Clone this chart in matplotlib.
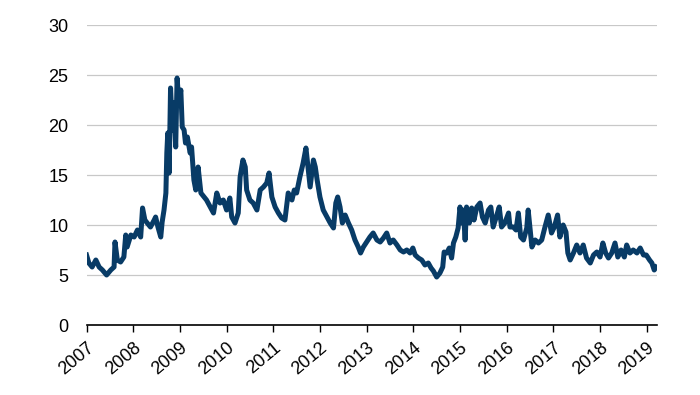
import matplotlib
matplotlib.use("Agg")
import matplotlib.pyplot as plt

# decimal years and values
years = [
    2007.00, 2007.05, 2007.12, 2007.20, 2007.27, 2007.34, 2007.43, 2007.52, 2007.59, 2007.61,
    2007.66, 2007.73, 2007.80, 2007.84, 2007.87, 2007.95, 2008.02, 2008.09, 2008.16, 2008.20,
    2008.25, 2008.30, 2008.37, 2008.45, 2008.48, 2008.53, 2008.59, 2008.62, 2008.66, 2008.70,
    2008.72, 2008.74, 2008.77, 2008.80, 2008.84, 2008.87, 2008.91, 2008.94, 2008.98, 2009.02,
    2009.05, 2009.09, 2009.12, 2009.16, 2009.22, 2009.25, 2009.30, 2009.34, 2009.39, 2009.45,
    2009.52, 2009.57, 2009.65, 2009.72, 2009.79, 2009.86, 2009.93, 2010.00, 2010.07, 2010.11,
    2010.18, 2010.25, 2010.29, 2010.35, 2010.40, 2010.43, 2010.50, 2010.57, 2010.65, 2010.72,
    2010.79, 2010.86, 2010.91, 2010.97, 2011.04, 2011.11, 2011.18, 2011.25, 2011.32, 2011.40,
    2011.45, 2011.50, 2011.57, 2011.64, 2011.70, 2011.75, 2011.79, 2011.86, 2011.90, 2011.94,
    2012.00, 2012.07, 2012.15, 2012.22, 2012.29, 2012.34, 2012.38, 2012.43, 2012.48, 2012.54,
    2012.61, 2012.68, 2012.75, 2012.82, 2012.87, 2012.93, 2013.00, 2013.07, 2013.14, 2013.22,
    2013.29, 2013.36, 2013.43, 2013.50, 2013.57, 2013.65, 2013.72, 2013.79, 2013.86, 2013.93,
    2013.99, 2014.04, 2014.11, 2014.18, 2014.25, 2014.32, 2014.38, 2014.43, 2014.50, 2014.57,
    2014.63, 2014.66, 2014.72, 2014.77, 2014.82, 2014.86, 2014.91, 2014.96, 2015.00, 2015.04,
    2015.07, 2015.11, 2015.14, 2015.20, 2015.25, 2015.30, 2015.36, 2015.43, 2015.48, 2015.54,
    2015.61, 2015.66, 2015.71, 2015.79, 2015.84, 2015.89, 2015.96, 2016.04, 2016.07, 2016.14,
    2016.20, 2016.25, 2016.30, 2016.36, 2016.43, 2016.46, 2016.54, 2016.61, 2016.68, 2016.75,
    2016.82, 2016.89, 2016.96, 2017.02, 2017.09, 2017.14, 2017.21, 2017.27, 2017.31, 2017.36,
    2017.43, 2017.50, 2017.57, 2017.64, 2017.71, 2017.79, 2017.86, 2017.93, 2018.00, 2018.06,
    2018.12, 2018.18, 2018.25, 2018.32, 2018.38, 2018.45, 2018.52, 2018.57, 2018.64, 2018.71,
    2018.79, 2018.86, 2018.93, 2018.99, 2019.06, 2019.11, 2019.16, 2019.20,
]
values = [
    7.0, 6.2, 5.8, 6.5, 5.8, 5.5, 5.0, 5.5, 5.8, 8.3,
    6.5, 6.3, 6.8, 9.0, 7.8, 9.0, 8.8, 9.5, 8.8, 11.7,
    10.5, 10.2, 9.8, 10.5, 10.8, 9.8, 8.8, 10.3, 11.5, 13.2,
    17.2, 19.2, 15.2, 23.7, 19.5, 22.2, 17.8, 24.7, 22.2, 23.5,
    19.8, 19.5, 18.2, 18.8, 17.2, 17.8, 14.5, 13.5, 15.8, 13.2,
    12.8, 12.5, 11.8, 11.2, 13.2, 12.2, 12.5, 11.5, 12.7, 10.8,
    10.2, 11.2, 14.8, 16.5, 15.8, 13.5, 12.5, 12.2, 11.5, 13.5,
    13.8, 14.2, 15.2, 12.8, 11.8, 11.2, 10.7, 10.5, 13.2, 12.5,
    13.5, 13.2, 14.8, 16.2, 17.7, 15.5, 13.8, 16.5, 15.8, 14.5,
    12.8, 11.5, 10.8, 10.2, 9.7, 12.2, 12.8, 11.8, 10.2, 11.0,
    10.2, 9.5, 8.5, 7.8, 7.2, 7.8, 8.3, 8.8, 9.2, 8.5,
    8.3, 8.7, 9.2, 8.2, 8.5, 8.0, 7.5, 7.3, 7.5, 7.2,
    7.7, 7.0, 6.7, 6.5, 6.0, 6.2, 5.7, 5.4, 4.8, 5.2,
    5.8, 7.3, 7.2, 7.7, 6.7, 8.2, 8.8, 9.7, 11.8, 10.2,
    11.5, 8.5, 11.8, 10.2, 11.7, 10.5, 11.8, 12.2, 10.8, 10.2,
    11.5, 11.8, 9.8, 11.0, 11.8, 9.8, 10.2, 11.2, 9.8, 9.8,
    9.5, 11.2, 8.8, 8.5, 9.7, 11.5, 7.8, 8.5, 8.2, 8.5,
    9.8, 11.0, 9.2, 9.8, 11.0, 8.8, 10.0, 9.3, 7.2, 6.5,
    7.2, 8.0, 7.2, 8.0, 6.7, 6.2, 7.0, 7.3, 6.8, 8.2,
    7.2, 6.7, 7.2, 8.2, 6.8, 7.5, 6.8, 8.0, 7.2, 7.5,
    7.2, 7.7, 7.0, 7.0, 6.5, 6.2, 5.5, 5.8,
]
tick_years = list(range(2007, 2020))
y_ticks = [0, 5, 10, 15, 20, 25, 30]

plt.rcParams['font.family'] = ['Liberation Sans', 'DejaVu Sans']

fig = plt.figure(figsize=(7, 3.95), dpi=100)
ax = fig.add_axes([0.1236, 0.1772, 0.815, 0.7595])

ax.plot(years, values, color='#083b66', linewidth=3.6, solid_joinstyle='round')

ax.set_xlim(2007, 2019.22)
ax.set_ylim(0, 30)
ax.set_yticks(y_ticks)
ax.set_xticks(tick_years)
ax.set_xticklabels([str(y) for y in tick_years], rotation=40, ha='right',
                   rotation_mode='anchor', fontsize=13)
ax.tick_params(axis='y', length=0, pad=13, labelsize=13)
ax.tick_params(axis='x', length=5, width=1, direction='out', pad=5)

ax.grid(axis='y', color='#c8c8c8', linewidth=0.9)
ax.set_axisbelow(True)
for side in ['left', 'right', 'top']:
    ax.spines[side].set_visible(False)
ax.spines['bottom'].set_linewidth(1.2)

fig.savefig('out.png', dpi=100)
